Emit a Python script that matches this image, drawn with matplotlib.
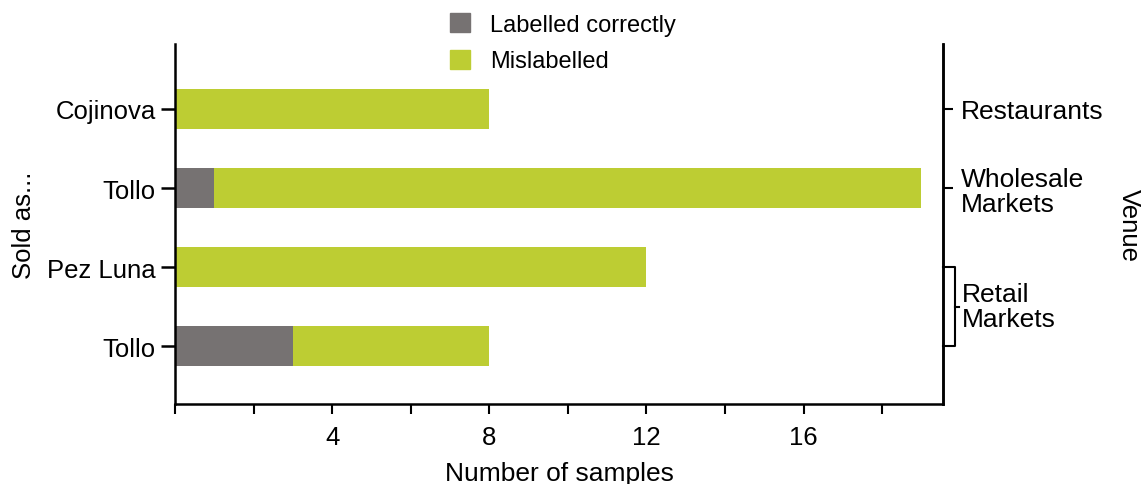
'''
stacked horizontal bars: samples labelled correctly vs mislabelled, by venue
'''
import numpy as np
import matplotlib.pyplot as plt
import matplotlib.transforms as mtransforms
from matplotlib.patches import Patch

plt.rcParams['font.family'] = ['Liberation Sans', 'DejaVu Sans']

# rows from top to bottom
sold_as = ['Cojinova', 'Tollo', 'Pez Luna', 'Tollo']
correct = [0, 1, 0, 3]
mislabelled = [8, 18, 12, 5]
venues = ['Restaurants', 'Wholesale\nMarkets']
retail_label = 'Retail\nMarkets'

grey = '#767272'
green = '#bdcd33'

fig = plt.figure(figsize=(11.46, 4.85), dpi=100)
ax = fig.add_axes([0.1527, 0.165, 0.6702, 0.742])

y = np.arange(len(sold_as))[::-1]
ax.barh(y, correct, height=0.5, color=grey, label='Labelled correctly')
ax.barh(y, mislabelled, left=correct, height=0.5, color=green, label='Mislabelled')

ax.set_xlim(0, 19.55)
ax.set_ylim(-0.73, 3.82)
ax.set_xticks([0, 4, 8, 12, 16])
ax.set_xticklabels(['', '4', '8', '12', '16'])
ax.set_xticks([2, 6, 10, 14, 18], minor=True)
ax.set_yticks(y)
ax.set_yticklabels(sold_as)
ax.tick_params(axis='both', labelsize=18.5, width=1.8, colors='black')
ax.tick_params(axis='x', which='both', length=7, width=1.5, pad=8)
ax.tick_params(axis='y', length=10, pad=4)
for side in ['left', 'bottom', 'right']:
    ax.spines[side].set_linewidth(1.8)
ax.spines['top'].set_visible(False)
ax.set_xlabel('Number of samples', fontsize=19, labelpad=9)
ax.set_ylabel('Sold as...', fontsize=18.5, labelpad=8)

# right axis with venue labels
ax2 = ax.twinx()
ax2.set_ylim(ax.get_ylim())
ax2.set_yticks([3, 2])
ax2.set_yticklabels(venues, linespacing=1.05)
ax2.tick_params(axis='y', labelsize=19, length=7, width=1.5, pad=6)
for side in ['left', 'bottom', 'top']:
    ax2.spines[side].set_visible(False)
ax2.spines['right'].set_linewidth(1.8)
ax2.set_ylabel('Venue', fontsize=18.5, rotation=-90, labelpad=27)

# bracket for the two retail rows
trans = mtransforms.blended_transform_factory(ax.transAxes, ax.transData)
bx = 1.016
ax.plot([1.0, bx, bx, 1.0], [1, 1, 0, 0], transform=trans, color='black',
        lw=1.5, clip_on=False)
ax.plot([bx, bx + 0.005], [0.5, 0.5], transform=trans, color='black',
        lw=1.5, clip_on=False)
ax.text(bx + 0.009, 0.5, retail_label, transform=trans, fontsize=19,
        va='center', ha='left', linespacing=1.05)

handles = [Patch(color=grey, label='Labelled correctly'),
           Patch(color=green, label='Mislabelled')]
fig.legend(handles=handles, loc='upper left', bbox_to_anchor=(0.374, 1.015),
           frameon=False, fontsize=17, handlelength=0.85, handleheight=0.85,
           handletextpad=0.85, labelspacing=0.6)

plt.savefig('out.png', dpi=100)
